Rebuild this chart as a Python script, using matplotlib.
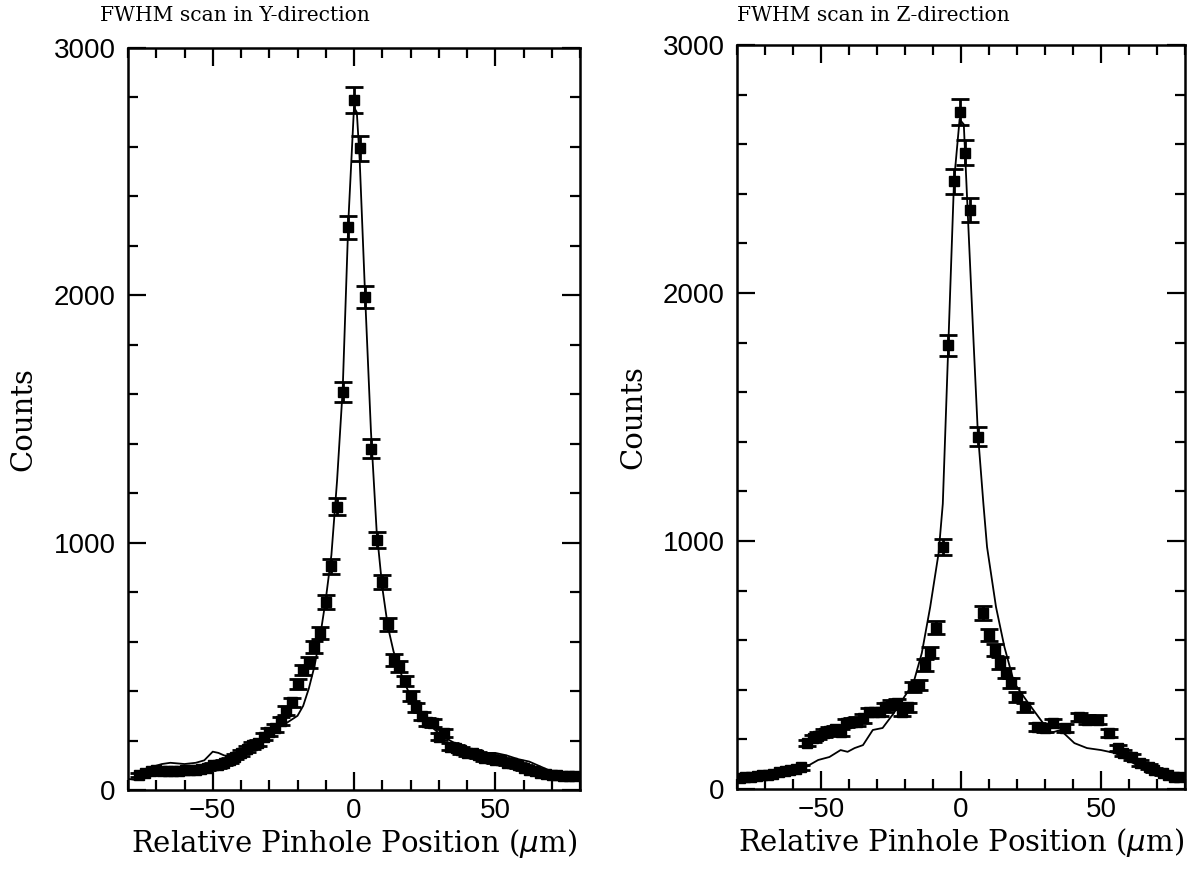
"""
FWHM pinhole scans in Y and Z direction: measured counts with errors and model curve.
"""

import numpy as np
import matplotlib
matplotlib.use("Agg")
import matplotlib.pyplot as plt
from matplotlib.ticker import MultipleLocator

# Y-direction scan: measured points
y_pos = [-76, -74, -72, -70, -68, -66, -64, -62, -60, -58, -56, -54, -52, -50,
         -48, -46, -44, -42, -40, -38, -36, -34, -32, -30, -28, -26, -24, -22,
         -20, -18, -16, -14, -12, -10, -8, -6, -4, -2, 0, 2, 4, 6, 8, 10, 12,
         14, 16, 18, 20, 22, 24, 26, 28, 30, 32, 34, 36, 38, 40, 42, 44, 46,
         48, 50, 52, 54, 56, 58, 60, 62, 64, 66, 68, 70, 72, 74, 76, 78]
y_counts = [60, 70, 75, 80, 75, 75, 75, 75, 80, 80, 80, 85, 90, 100,
            100, 110, 120, 135, 150, 165, 180, 190, 215, 235, 250, 280, 320, 355,
            430, 485, 515, 580, 635, 760, 905, 1145, 1610, 2275, 2790, 2595, 1995, 1380, 1010, 840, 670,
            525, 500, 440, 380, 335, 300, 275, 270, 215, 230, 175, 170, 160, 150, 150, 140, 130,
            130, 120, 120, 110, 110, 100, 90, 80, 75, 70, 65, 60, 60, 55, 55, 55]

# Y-direction scan: model curve
y_model_pos = [-80, -77, -74, -71, -68, -65, -60, -56, -53, -50, -48, -46, -44, -40,
               -36, -32, -28, -24, -20, -18, -16, -14, -12, -10, -8, -6, -4, -2, 0,
               1, 2, 4, 6, 8, 10, 12, 14, 16, 18, 20, 22, 24, 26, 28, 30, 34, 38,
               42, 46, 50, 54, 58, 62, 66, 70, 74, 78, 80]
y_model = [45, 40, 55, 95, 105, 110, 105, 110, 120, 155, 150, 140, 135, 150,
           175, 210, 245, 270, 300, 340, 410, 500, 620, 770, 950, 1250, 1620, 2300, 2760,
           2740, 2550, 1980, 1450, 1050, 820, 660, 560, 490, 430, 380, 340, 305, 275, 250, 230, 200, 175,
           160, 150, 150, 140, 125, 115, 95, 75, 65, 60, 60]

# Z-direction scan: measured points
z_pos = [-79, -77, -75, -73, -71, -69, -67, -65, -63, -61, -59, -57, -55, -53,
         -51, -49, -47, -45, -43, -41, -39, -37, -35, -33, -31, -29, -27, -25,
         -23, -21, -19, -17, -15, -13, -11, -9, -6.5, -4.5, -2.5, -0.5, 1.5, 3.3,
         6, 8, 10, 12, 14, 16, 18, 20, 23, 27, 30, 33, 37, 42, 45, 49, 53, 56,
         58, 61, 64, 67, 69, 72, 74, 76, 78]
z_counts = [45, 48, 50, 52, 55, 57, 62, 68, 72, 75, 80, 88, 185, 205,
            215, 225, 235, 240, 228, 265, 270, 272, 285, 310, 310, 310, 330, 340,
            345, 310, 330, 410, 420, 500, 550, 650, 975, 1790, 2450, 2730, 2565, 2335,
            1420, 710, 620, 560, 508, 468, 427, 370, 330, 250, 246, 266, 246, 290, 280, 280, 226, 165,
            145, 129, 105, 90, 77, 65, 56, 50, 48]

# Z-direction scan: model curve
z_model_pos = [-80, -71, -64, -56, -51, -47, -43, -40.5, -38, -35, -31.5, -28, -24, -20.5,
               -17, -14, -11, -8, -6.5, -4.5, -2.5, -0.5, 1, 2.5, 4.5, 6, 8, 9.3, 12.5,
               15.5, 19, 24, 28.5, 32, 35.5, 40.5, 45, 50, 55, 59.5, 64, 71.5, 80]
z_model = [36, 48, 60, 85, 117, 129, 157, 150, 165, 177, 238, 246, 306, 367,
           427, 548, 734, 951, 1150, 1800, 2450, 2700, 2680, 2300, 1800, 1440, 1150, 976, 734,
           573, 427, 347, 278, 226, 238, 185, 165, 157, 145, 117, 89, 65, 44]

panels = [
    ("FWHM scan in Y-direction", y_pos, y_counts, y_model_pos, y_model,
     [128 / 1192, 1 - 790 / 877, 452 / 1192, 742 / 877], 100 / 1192),
    ("FWHM scan in Z-direction", z_pos, z_counts, z_model_pos, z_model,
     [737 / 1192, 1 - 789 / 877, 448 / 1192, 744 / 877], 737 / 1192),
]

serif = "DejaVu Serif"
sans = "Liberation Sans"

fig = plt.figure(figsize=(11.92, 8.77), dpi=100)

for title, pos, counts, mpos, model, rect, title_x in panels:
    ax = fig.add_axes(rect)
    counts = np.array(counts, dtype=float)
    ax.plot(mpos, model, color="black", lw=1.3, zorder=2)
    ax.errorbar(pos, counts, yerr=np.sqrt(counts), fmt="s", color="black",
                markersize=6.5, capsize=6.5, capthick=2, elinewidth=2, zorder=3)

    ax.set_xlim(-80, 80)
    ax.set_ylim(0, 3000)
    ax.xaxis.set_major_locator(MultipleLocator(50))
    ax.xaxis.set_minor_locator(MultipleLocator(10))
    ax.yaxis.set_major_locator(MultipleLocator(1000))
    ax.yaxis.set_minor_locator(MultipleLocator(200))
    ax.tick_params(which="both", direction="in", top=True, right=True, width=1.6)
    ax.tick_params(which="major", length=13, labelsize=20)
    ax.tick_params(axis="x", which="major", pad=6)
    ax.tick_params(axis="y", which="major", pad=9)
    ax.tick_params(which="minor", length=7)
    for lab in ax.get_xticklabels() + ax.get_yticklabels():
        lab.set_fontfamily(sans)
    for sp in ax.spines.values():
        sp.set_linewidth(1.8)

    ax.set_xlabel(r"Relative Pinhole Position ($\mu$m)", family=serif, fontsize=21)
    ax.set_ylabel("Counts", family=serif, fontsize=21)
    ax.yaxis.set_label_coords(-0.2, 0.5)
    ax.xaxis.labelpad = 2

    fig.text(title_x, 0.982, title, family=serif, fontsize=14.6, ha="left", va="center")

fig.savefig("out.png", dpi=100)
